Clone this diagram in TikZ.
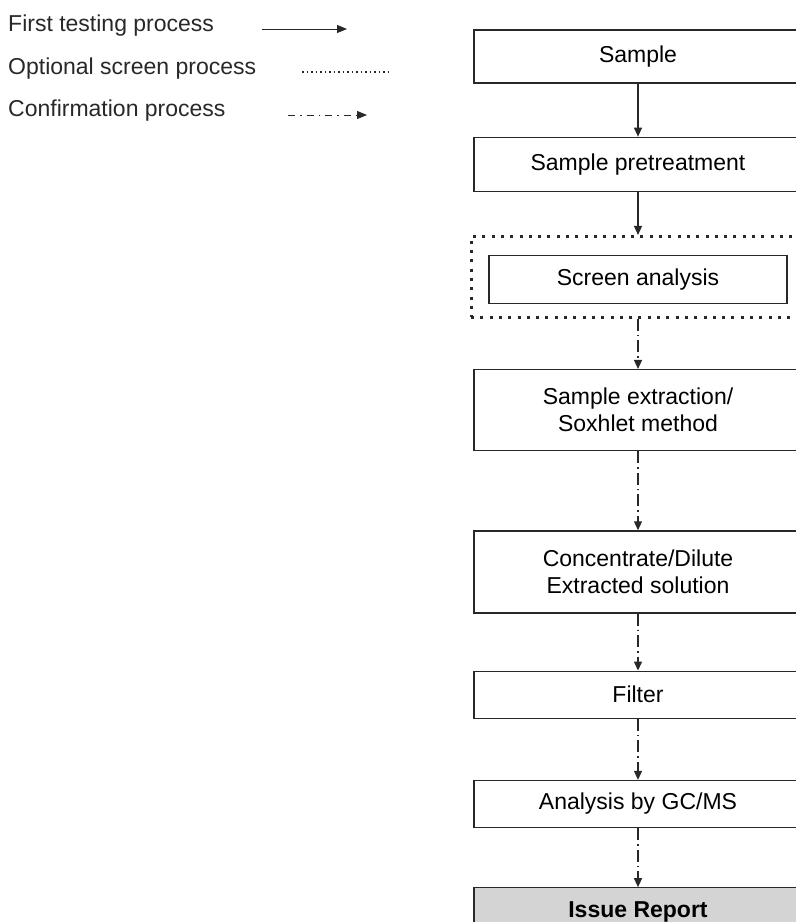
\documentclass[tikz,border=0pt]{standalone}
\usepackage{fontspec}
\setmainfont{Liberation Sans}
\usepackage{xcolor}
\definecolor{ReportGray}{RGB}{212,212,212}
\definecolor{InkGray}{RGB}{40,40,40}
\usetikzlibrary{positioning, arrows.meta}
\tikzset{
  % Process box
  procbox/.style={
    rectangle, draw=InkGray, line width=1.3pt,
    fill=white, align=center,
    minimum width=328pt,
    font=\fontsize{23}{27}\selectfont,
    inner sep=2pt
  },
  procbox gray/.style={procbox, fill=ReportGray,
    font=\fontsize{23}{27}\selectfont\bfseries},
  % Optional screen frame
  screenframe/.style={
    rectangle, draw=InkGray, line width=3pt,
    dash pattern=on 3pt off 6.3pt,
    minimum width=334pt, minimum height=81pt
  },
  % Legend text
  legtext/.style={anchor=west, inner sep=0pt,
    font=\fontsize{23}{27}\selectfont, text=InkGray},
  % Arrows
  arr/.style={-{Triangle[length=9pt,width=8pt]}, line width=1.2pt, InkGray},
  carr/.style={arr, dash pattern=on 12pt off 4pt on 1.5pt off 4pt},
  larr/.style={-{Triangle[length=10pt,width=8pt]}, line width=0.8pt, InkGray},
  ldot/.style={line width=1.5pt, InkGray, dash pattern=on 1.5pt off 3pt},
}
\begin{document}
\begin{tikzpicture}[x=1pt, y=1pt]

  \useasboundingbox (0,0) rectangle (796,-922);
  \clip (0,0) rectangle (796,-922);

  %% Legend
  \node[legtext] (lgfirst) at (8,-26) {First testing process};
  \node[legtext] (lgopt)   at (8,-69) {Optional screen process};
  \node[legtext] (lgconf)  at (8,-111) {Confirmation process};
  \coordinate (lf1) at (262,-29);  \coordinate (lf2) at (347,-29);
  \coordinate (lo1) at (302,-72);  \coordinate (lo2) at (388,-72);
  \coordinate (lc1) at (288,-115); \coordinate (lc2) at (367,-115);
  \draw[larr] (lf1) -- (lf2);
  \draw[ldot] (lo1) -- (lo2);
  \draw[larr, dash pattern=on 7pt off 5pt on 1.5pt off 5pt] (lc1) -- (lc2);

  %% Flow (right column)
  \node[procbox, minimum height=53pt] (sample) at (638,-56.5) {Sample};
  \node[procbox, minimum height=54pt, below=53pt of sample] (pretreat) {Sample pretreatment};

  \node[screenframe, below=43pt of pretreat] (frame) {};
  \node[procbox, minimum width=298pt, minimum height=48pt]
    (screen) at ([yshift=-2.5pt]frame.center) {Screen analysis};

  \node[procbox, minimum height=81pt, below=50pt of frame]
    (extract) {Sample extraction/\\Soxhlet method};
  \node[procbox, minimum height=82pt, below=79pt of extract]
    (conc) {Concentrate/Dilute\\Extracted solution};
  \node[procbox, minimum height=47pt, below=57pt of conc] (filter) {Filter};
  \node[procbox, minimum height=47pt, below=61pt of filter] (gcms) {Analysis by GC/MS};
  \node[procbox gray, minimum height=48pt, below=59pt of gcms] (report) {Issue Report};

  %% First testing arrows
  \draw[arr] (sample) -- (pretreat);
  \draw[arr] (pretreat) -- (frame);

  %% Confirmation arrows
  \draw[carr] (frame) -- (extract);
  \draw[carr] (extract) -- (conc);
  \draw[carr] (conc) -- (filter);
  \draw[carr] (filter) -- (gcms);
  \draw[carr] (gcms) -- (report);

\end{tikzpicture}
\end{document}
